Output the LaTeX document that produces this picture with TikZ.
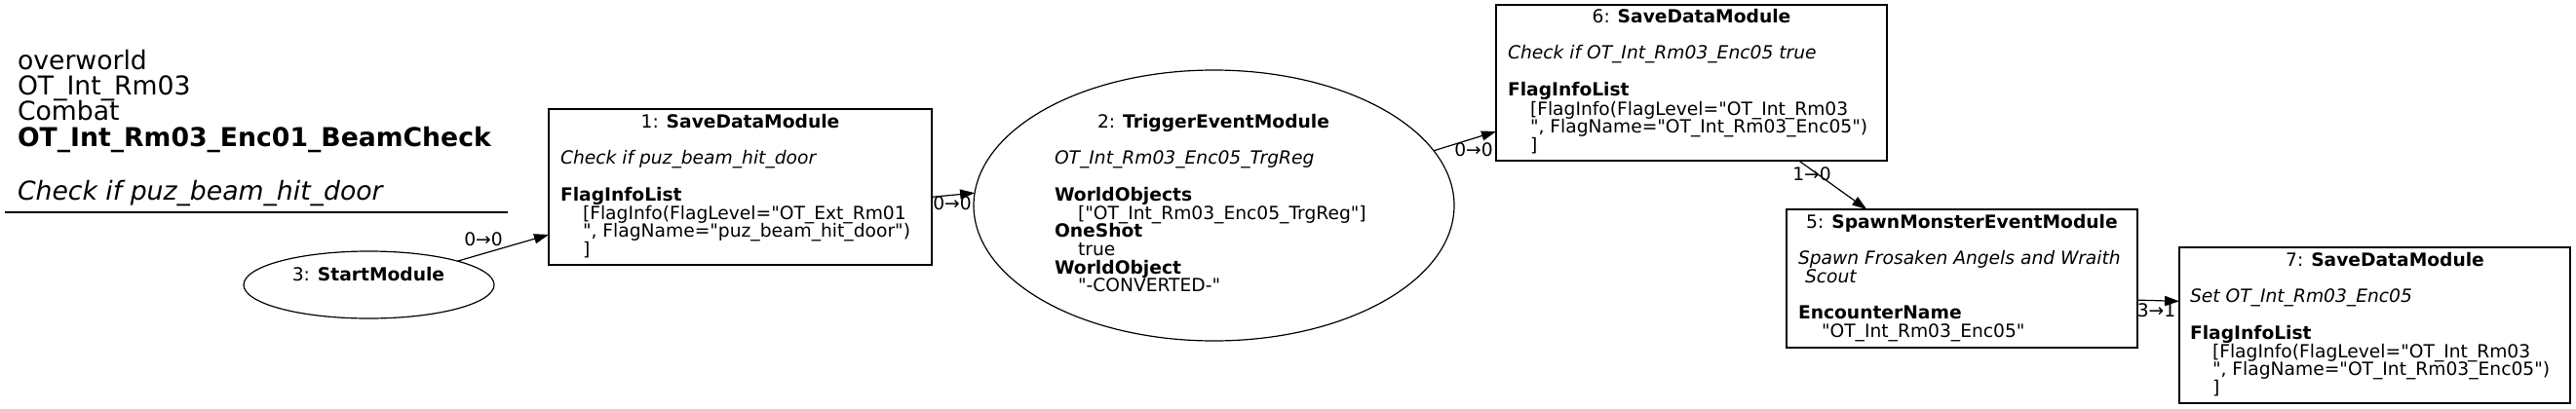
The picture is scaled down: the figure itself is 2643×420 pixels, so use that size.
\documentclass[tikz,border=0pt]{standalone}
\usepackage{fontspec}
\setmainfont{DejaVu Sans}[Ligatures=TeXOff]
\usetikzlibrary{shapes.geometric,arrows.meta}
\newcommand{\nodefnt}{\fontsize{18.67}{18.67}\selectfont}
\newcommand{\titlefnt}{\fontsize{26.67}{26.67}\selectfont}
\tikzset{
  boxnode/.style={draw, rectangle, line width=1.2pt, inner sep=0pt, outer sep=0pt},
  ellnode/.style={draw, ellipse, line width=1.2pt, inner sep=0pt, outer sep=0pt},
  txt/.style={inner sep=0pt, outer sep=0pt, anchor=base west, font=\nodefnt},
  ttl/.style={inner sep=0pt, outer sep=0pt, anchor=base, font=\nodefnt},
  gtxt/.style={inner sep=0pt, outer sep=0pt, anchor=base west, font=\titlefnt},
  lbl/.style={inner sep=0pt, outer sep=0pt, anchor=base, font=\nodefnt},
  conn/.style={-{Triangle[length=15pt,width=10pt]}, line width=1.2pt}
}
\begin{document}
\begin{tikzpicture}[x=1pt,y=-1pt]
\useasboundingbox (0,0) rectangle (2643,420);
\fill[white] (0,0) rectangle (2643,420);

% graph title
\node[gtxt] (g1) at (18,71) {overworld};
\node[gtxt] (g2) at (18,97) {OT\_Int\_Rm03};
\node[gtxt] (g3) at (18,123) {Combat};
\node[gtxt] (g4) at (18,150) {\textbf{OT\_Int\_Rm03\_Enc01\_BeamCheck}};
\node[gtxt] (g5) at (18,205) {\textit{Check if puz\_beam\_hit\_door}};
\coordinate (gl1) at (5,218);
\coordinate (gl2) at (521,218);
\draw[line width=1.2pt] (gl1) -- (gl2);

% node 3
\node[ellnode, minimum width=257pt, minimum height=69pt] (n3) at (378.5,292.5) {};
\node[ttl] (n3t) at (378,288) {3: \textbf{StartModule}};

% node 1
\node[boxnode, minimum width=393pt, minimum height=160pt] (n1) at (759.5,192) {};
\node[ttl] (n1t) at (759.5,131) {1: \textbf{SaveDataModule}};
\node[txt] (n1a) at (575,168) {\textit{Check if puz\_beam\_hit\_door}};
\node[txt] (n1b) at (575,206) {\textbf{FlagInfoList}};
\node[txt] (n1c) at (598,225) {[FlagInfo(FlagLevel="OT\_Ext\_Rm01};
\node[txt] (n1d) at (598,243) {", FlagName="puz\_beam\_hit\_door")};
\node[txt] (n1e) at (598,262) {]};

% node 2
\node[ellnode, minimum width=493pt, minimum height=278pt] (n2) at (1245.5,211) {};
\node[ttl] (n2t) at (1245,131) {2: \textbf{TriggerEventModule}};
\node[txt] (n2a) at (1082,168) {\textit{OT\_Int\_Rm03\_Enc05\_TrgReg}};
\node[txt] (n2b) at (1082,206) {\textbf{WorldObjects}};
\node[txt] (n2c) at (1106,225) {["OT\_Int\_Rm03\_Enc05\_TrgReg"]};
\node[txt] (n2d) at (1082,243) {\textbf{OneShot}};
\node[txt] (n2e) at (1106,262) {true};
\node[txt] (n2f) at (1082,281) {\textbf{WorldObject}};
\node[txt] (n2g) at (1106,299) {"-CONVERTED-"};

% node 6
\node[boxnode, minimum width=401pt, minimum height=160pt] (n6) at (1735.5,85) {};
\node[ttl] (n6t) at (1735.5,24) {6: \textbf{SaveDataModule}};
\node[txt] (n6a) at (1547,61) {\textit{Check if OT\_Int\_Rm03\_Enc05 true}};
\node[txt] (n6b) at (1547,99) {\textbf{FlagInfoList}};
\node[txt] (n6c) at (1570,118) {[FlagInfo(FlagLevel="OT\_Int\_Rm03};
\node[txt] (n6d) at (1570,136) {", FlagName="OT\_Int\_Rm03\_Enc05")};
\node[txt] (n6e) at (1570,155) {]};

% node 5
\node[boxnode, minimum width=360pt, minimum height=142pt] (n5) at (2013,286) {};
\node[ttl] (n5t) at (2013,234) {5: \textbf{SpawnMonsterEventModule}};
\node[txt] (n5a) at (1845,271) {\textit{Spawn Frosaken Angels and Wraith}};
\node[txt] (n5b) at (1852,290) {\textit{Scout}};
\node[txt] (n5c) at (1845,327) {\textbf{EncounterName}};
\node[txt] (n5d) at (1869,346) {"OT\_Int\_Rm03\_Enc05"};

% node 7
\node[boxnode, minimum width=401pt, minimum height=160pt] (n7) at (2436.5,334) {};
\node[ttl] (n7t) at (2447,273) {7: \textbf{SaveDataModule}};
\node[txt] (n7a) at (2247,310) {\textit{Set OT\_Int\_Rm03\_Enc05}};
\node[txt] (n7b) at (2247,348) {\textbf{FlagInfoList}};
\node[txt] (n7c) at (2270,367) {[FlagInfo(FlagLevel="OT\_Int\_Rm03};
\node[txt] (n7d) at (2270,385) {", FlagName="OT\_Int\_Rm03\_Enc05")};
\node[txt] (n7e) at (2270,404) {]};

% connectors
\draw[conn] (n3.15) -- (n1.194.8);
\draw[conn] (n1.357.67) -- (n2.177.9);
\draw[conn] (n2.14.49) -- (n6.194.27);
\draw[conn] (n6.324.34) -- (n5.144.07);
\draw[conn] (n5.353.66) -- (n7.173.46);

% connector labels
\node[lbl] (l31) at (496,252) {0→0};
\node[lbl] (l12) at (977,215) {0→0};
\node[lbl] (l26) at (1512,160) {0→0};
\node[lbl] (l65) at (1859,185) {1→0};
\node[lbl] (l57) at (2212.5,325) {3→1};
\end{tikzpicture}
\end{document}
